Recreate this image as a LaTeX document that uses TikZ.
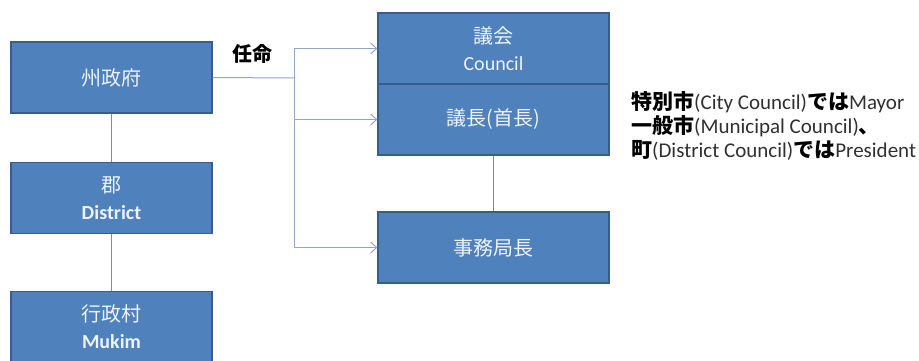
\documentclass[tikz,border=0pt]{standalone}
\usepackage{fontspec}
\setmainfont{Carlito}
\newfontfamily\jp{Noto Sans CJK JP}
\usetikzlibrary{arrows.meta}
\definecolor{boxfill}{HTML}{4F81BD}
\definecolor{boxline}{HTML}{385D8A}
\definecolor{boxtext}{HTML}{EEF3FA}
\definecolor{linkc}{HTML}{8FA8C8}
\definecolor{stemc}{HTML}{8C8C8C}
\definecolor{notelat}{HTML}{303030}
\newcommand{\jpbox}{\jp\fontsize{20}{27}\selectfont}
\tikzset{
  orgbox/.style={draw=boxline, line width=1.2pt, fill=boxfill, text=boxtext,
    minimum width=201pt, minimum height=71pt, inner sep=0pt, align=center,
    font=\fontsize{20}{27}\selectfont},
  inbox/.style={draw=boxline, line width=1.2pt, fill=boxfill, text=boxtext,
    minimum width=231pt, minimum height=71pt, inner sep=0pt, align=center,
    font=\fontsize{20}{27}\selectfont},
  link/.style={draw=linkc, line width=1pt},
  linkarrow/.style={link, -{Straight Barb[length=6pt,width=11pt]}},
  stem/.style={draw=stemc, line width=1.5pt},
}
\begin{document}
\begin{tikzpicture}[x=1pt,y=-1pt]
\useasboundingbox (0,0) rectangle (919,361);
\node[orgbox] (state) at (111.5,77.5) {\jpbox 州政府};
\node[orgbox] (gun) at (111.5,198) {{\jpbox 郡}\\\bfseries District};
\node[orgbox] (mukim) at (111.5,327) {{\jpbox 行政村}\\\bfseries Mukim};
\node[inbox] (council) at (493.5,48.5) {{\jpbox 議会}\\Council};
\node[inbox] (gicho) at (493.5,119.5) {\jpbox 議長(首長)};
\node[inbox] (jimu) at (493.5,247.5) {\jpbox 事務局長};
\coordinate (j) at (294,78);
\draw[stem] (state.south) -- (gun.north);
\draw[stem] (gun.south) -- (mukim.north);
\draw[stem] (gicho.south) -- (jimu.north);
\draw[link] (state.east) -- (j);
\draw[linkarrow] (j) |- (council.west);
\draw[linkarrow] (j) |- (gicho.west);
\draw[linkarrow] (j) |- (jimu.west);
\node[font=\jp\bfseries\fontsize{20}{22}\selectfont, anchor=center] (ninmei) at (252,54) {任命};
\node[anchor=west, align=left, inner sep=0pt, text=notelat, font=\fontsize{21}{24}\selectfont] (note) at (631,126)
  {{\jp\bfseries\color{black}特別市}(City Council){\jp\bfseries\color{black}では}Mayor\\
   {\jp\bfseries\color{black}一般市}(Municipal Council){\jp\bfseries\color{black}、}\\
   {\jp\bfseries\color{black}町}(District Council){\jp\bfseries\color{black}では}President};
\end{tikzpicture}
\end{document}
